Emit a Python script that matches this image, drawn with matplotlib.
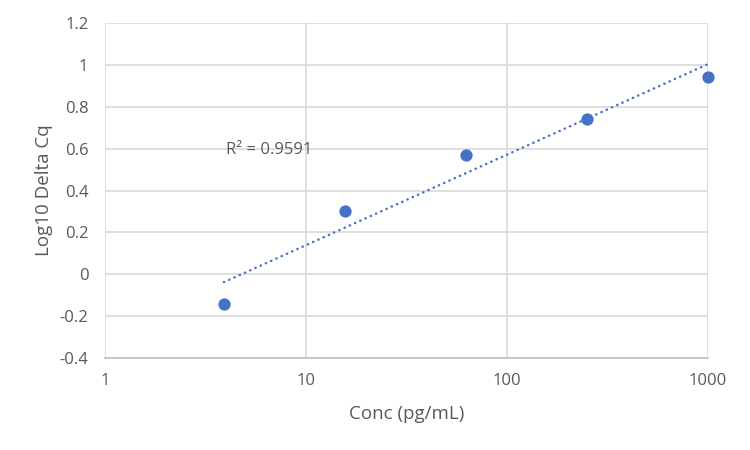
import numpy as np
import matplotlib
matplotlib.use("Agg")
import matplotlib.pyplot as plt

# Data
conc = [3.90625, 15.625, 62.5, 250, 1000]
log_delta_cq = [-0.141, 0.303, 0.570, 0.742, 0.941]
y_ticks = [-0.4, -0.2, 0, 0.2, 0.4, 0.6, 0.8, 1, 1.2]
y_tick_labels = ["-0.4", "-0.2", "0", "0.2", "0.4", "0.6", "0.8", "1", "1.2"]
x_ticks = [1, 10, 100, 1000]
x_tick_labels = ["1", "10", "100", "1000"]
r2_label = "R² = 0.9591"

plt.rcParams['font.family'] = ['Open Sans', 'DejaVu Sans']
text_color = "#595959"
grid_color = "#D9D9D9"
blue = "#4472C4"

fig = plt.figure(figsize=(7.5, 4.5), dpi=100)
ax = fig.add_axes([0.14, 0.2044, 0.804, 0.7445])

ax.set_xscale('log')
ax.set_xlim(1, 1000)
ax.set_ylim(-0.4, 1.2)

# Logarithmic trendline fitted from the data
lx = np.log10(conc)
slope, intercept = np.polyfit(lx, log_delta_cq, 1)
xt = np.logspace(lx.min(), lx.max(), 100)
ax.plot(xt, slope * np.log10(xt) + intercept, color=blue, lw=1.8,
        linestyle=(0, (0.1, 2.2)), dash_capstyle='round', zorder=3)

ax.scatter(conc, log_delta_cq, s=78, color=blue, zorder=4, clip_on=False, linewidths=0)

ax.set_yticks(y_ticks)
ax.set_yticklabels(y_tick_labels)
ax.set_xticks(x_ticks)
ax.set_xticklabels(x_tick_labels)
ax.xaxis.set_minor_locator(matplotlib.ticker.NullLocator())

ax.grid(True, which='major', color=grid_color, lw=1.2)
ax.set_axisbelow(True)
for s in ['top', 'right', 'left']:
    ax.spines[s].set_visible(False)
ax.spines['bottom'].set_color("#BFBFBF")
ax.spines['bottom'].set_linewidth(1.2)

ax.tick_params(axis='both', length=0, colors=text_color, labelsize=12)
ax.tick_params(axis='y', pad=12)
ax.tick_params(axis='x', pad=11)

ax.set_xlabel("Conc (pg/mL)", color=text_color, fontsize=13.5, labelpad=11.5)
ax.set_ylabel("Log10 Delta Cq", color=text_color, fontsize=13.5, labelpad=4.5)

ax.text(4.0, 0.593, r2_label, color=text_color, fontsize=12, va='center', ha='left')

fig.savefig("out.png", dpi=100)
